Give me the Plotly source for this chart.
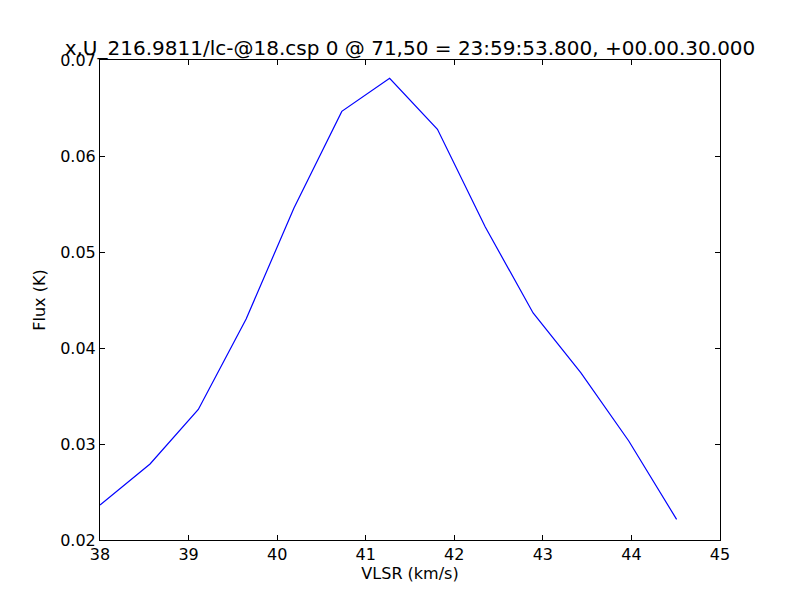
import plotly.graph_objects as go

vlsr = [38.00, 38.565, 39.11, 39.65, 40.19, 40.73, 41.27, 41.81, 42.35, 42.89, 43.43, 43.97, 44.51]
flux = [0.02365, 0.02792, 0.03360, 0.04302, 0.05458, 0.06465, 0.06810, 0.06278, 0.05260, 0.04365, 0.03740, 0.03031, 0.02215]

title_text = "x,U_216.9811/lc-@18.csp 0 @ 71,50 = 23:59:53.800, +00.00.30.000"
x_ticks = [38, 39, 40, 41, 42, 43, 44, 45]
y_ticks = [0.02, 0.03, 0.04, 0.05, 0.06, 0.07]

font = "DejaVu Sans"

fig = go.Figure()
fig.add_trace(go.Scatter(x=vlsr, y=flux, mode="lines",
                         line=dict(color="#0000ff", width=1.2), showlegend=False))

axis_common = dict(showgrid=False, zeroline=False, showline=True, linecolor="black",
                   linewidth=1, mirror="ticks", ticks="inside", ticklen=5,
                   tickcolor="black", tickwidth=1,
                   tickfont=dict(family=font, size=16, color="black"))

# page body has an 8px margin; compensate so the plot area sits at 100..720 x 60..540
fig.update_layout(
    width=800, height=600,
    margin=dict(l=92, r=88, t=52, b=68),
    paper_bgcolor="white", plot_bgcolor="white",
    title=dict(text=title_text, x=0.5, xref="paper", xanchor="center",
               y=1, yref="paper", yanchor="bottom", pad=dict(b=5),
               font=dict(family=font, size=20, color="black")),
    xaxis=dict(range=[38, 45], tickvals=x_ticks, ticktext=[str(v) for v in x_ticks],
               title=dict(text="VLSR (km/s)", font=dict(family=font, size=16, color="black"), standoff=4),
               **axis_common),
    yaxis=dict(range=[0.02, 0.07], tickvals=y_ticks, ticktext=[f"{v:.2f}" for v in y_ticks],
               title=dict(text="Flux (K)", font=dict(family=font, size=16, color="black"), standoff=10),
               **axis_common),
)

fig.write_html("out.html")
